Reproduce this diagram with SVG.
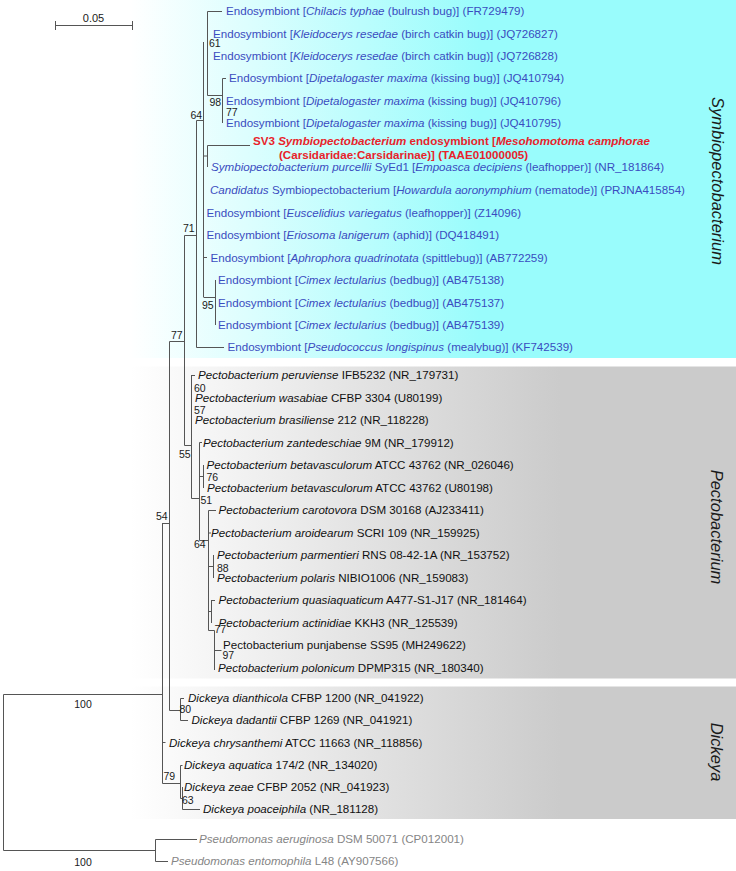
<svg xmlns="http://www.w3.org/2000/svg" width="736" height="871" viewBox="0 0 736 871">
<defs>
<linearGradient id="gc" gradientUnits="userSpaceOnUse" x1="130" y1="0" x2="480" y2="0">
<stop offset="0" stop-color="#ffffff"/><stop offset="1" stop-color="#99fcfc"/>
</linearGradient>
<linearGradient id="gg" gradientUnits="userSpaceOnUse" x1="130" y1="0" x2="560" y2="0">
<stop offset="0" stop-color="#ffffff"/><stop offset="1" stop-color="#cbcbcb"/>
</linearGradient>
<style>
text{font-family:"Liberation Sans",Arial,sans-serif;font-size:11.6px}
.b{fill:#3a4cc0}
.k{fill:#111111}
.g{fill:#858585}
.r{fill:#e8232b;font-weight:bold}
.i{font-style:italic}
.bs{font-size:10.5px;fill:#1a1a1a}
.cl{font-size:16.5px;font-style:italic;fill:#1a1a1a;text-anchor:middle}
.e{stroke:#555555;stroke-width:1;fill:none}
</style>
</defs>
<rect x="0" y="0" width="736" height="871" fill="#ffffff"/>
<g id="backgrounds">
<rect x="130" y="0" width="606" height="358" fill="url(#gc)"/>
<rect x="130" y="366.5" width="606" height="312" fill="url(#gg)"/>
<rect x="130" y="686.5" width="606" height="132.5" fill="url(#gg)"/>
</g>
<g id="scale-bar">
<path class="e" d="M55.5 25.5H132.5M55.5 21V30M132.5 21V30"/>
<text class="bs" x="93.5" y="21.5" text-anchor="middle" style="font-size:11px">0.05</text>
</g>
<g id="connectors">
<path class="e" d="M207.5 11.5V95.5M207.5 11.5H222M207.5 95.5H222.5M222.5 78.5V123M222.5 78.5H226
M203.5 42V297M196.5 120.5H203.5M203.5 156H207.5M207.5 145.5V167M207.5 145.5H250
M203.5 257.5H207M203.5 297.5H215.5M215.5 280V325
M196.5 120.5V347.5M196.5 347.5H224M184.5 235.5H196.5M184.5 235.5V445.5M184.5 445.5H191.5
M169.5 341.5H184.5M169.5 341.5V710.5M162 523.5H169.5M162.5 523.5V783.5
M191.5 375V498.5M191.5 375.5H195M191.5 498.5H199.5M199.5 442.5V540.5M199.5 442.5H202
M199.5 476.5H203.5M203.5 465V488M199.5 540.5H208.5M208.5 510.5V630.5M208.5 510.5H216M208.5 533H211
M208.5 566.5H213.5M213.5 555V578M208.5 611.5H211.5M211.5 600V623M211.5 600.5H215
M208.5 630.5H214.5M214.5 630.5V670M214.5 650.5H221.5
M169.5 710.5H180.5M180.5 698.5V720.5M180.5 698.5H184M180.5 720.5H188M162.5 742.5H165.5
M162.5 783.5H180.5M180.5 765.5V798.5M180.5 765.5H182.5M180.5 798.5H182.5M182.5 787V809.5M182.5 809.5H200
M3.5 694.5H162.5M3.5 694.5V850.5M3.5 850.5H155.5M155.5 839.5V861.5M155.5 839.5H197M155.5 861.5H168"/>
</g>
<g id="bootstrap">
<text class="bs" x="209" y="47">61</text>
<text class="bs" x="209.5" y="105.5">98</text>
<text class="bs" x="226" y="115.5">77</text>
<text class="bs" x="190.5" y="118.5">64</text>
<text class="bs" x="183" y="231.5">71</text>
<text class="bs" x="202" y="308.5">95</text>
<text class="bs" x="171" y="338.5">77</text>
<text class="bs" x="194" y="392">60</text>
<text class="bs" x="194" y="413.5">57</text>
<text class="bs" x="179" y="457.5">55</text>
<text class="bs" x="206.5" y="481">76</text>
<text class="bs" x="200.5" y="503.5">51</text>
<text class="bs" x="156" y="520">54</text>
<text class="bs" x="194" y="548">64</text>
<text class="bs" x="217" y="572">88</text>
<text class="bs" x="214.5" y="633">77</text>
<text class="bs" x="222.5" y="658.5">97</text>
<text class="bs" x="179.5" y="713">80</text>
<text class="bs" x="163.5" y="780">79</text>
<text class="bs" x="182" y="804">63</text>
<text class="bs" x="83" y="707.5" text-anchor="middle">100</text>
<text class="bs" x="83" y="866" text-anchor="middle">100</text>
</g>
<g id="symbiopectobacterium-leaves">
<g id="n1"><text class="b" x="226" y="15">Endosymbiont [<tspan class="i">Chilacis typhae</tspan> (bulrush bug)] (FR729479)</text></g>
<g id="n2"><text class="b" x="213" y="37.5">Endosymbiont [<tspan class="i">Kleidocerys resedae</tspan> (birch catkin bug)] (JQ726827)</text></g>
<g id="n3"><text class="b" x="213" y="60">Endosymbiont [<tspan class="i">Kleidocerys resedae</tspan> (birch catkin bug)] (JQ726828)</text></g>
<g id="n4"><text class="b" x="229" y="82">Endosymbiont [<tspan class="i">Dipetalogaster maxima</tspan> (kissing bug)] (JQ410794)</text></g>
<g id="n5"><text class="b" x="226" y="104.5">Endosymbiont [<tspan class="i">Dipetalogaster maxima</tspan> (kissing bug)] (JQ410796)</text></g>
<g id="n6"><text class="b" x="226" y="127">Endosymbiont [<tspan class="i">Dipetalogaster maxima</tspan> (kissing bug)] (JQ410795)</text></g>
<g id="n7">
<text class="r" x="253" y="145">SV3 <tspan class="i">Symbiopectobacterium</tspan> endosymbiont [<tspan class="i">Mesohomotoma camphorae</tspan></text>
<text class="r" x="279" y="158.5">(Carsidaridae:Carsidarinae)] (TAAE01000005)</text>
</g>
<g id="n8"><text class="b" x="211" y="171"><tspan class="i">Symbiopectobacterium purcellii</tspan> SyEd1 [<tspan class="i">Empoasca decipiens</tspan> (leafhopper)] (NR_181864)</text></g>
<g id="n9"><text class="b" x="210" y="194"><tspan class="i">Candidatus</tspan> Symbiopectobacterium [<tspan class="i">Howardula aoronymphium</tspan> (nematode)] (PRJNA415854)</text></g>
<g id="n10"><text class="b" x="206.5" y="216.5">Endosymbiont [<tspan class="i">Euscelidius variegatus</tspan> (leafhopper)] (Z14096)</text></g>
<g id="n11"><text class="b" x="206.5" y="239">Endosymbiont [<tspan class="i">Eriosoma lanigerum</tspan> (aphid)] (DQ418491)</text></g>
<g id="n12"><text class="b" x="210.5" y="261.5">Endosymbiont [<tspan class="i">Aphrophora quadrinotata</tspan> (spittlebug)] (AB772259)</text></g>
<g id="n13"><text class="b" x="218" y="284">Endosymbiont [<tspan class="i">Cimex lectularius</tspan> (bedbug)] (AB475138)</text></g>
<g id="n14"><text class="b" x="218" y="306.5">Endosymbiont [<tspan class="i">Cimex lectularius</tspan> (bedbug)] (AB475137)</text></g>
<g id="n15"><text class="b" x="218" y="328.5">Endosymbiont [<tspan class="i">Cimex lectularius</tspan> (bedbug)] (AB475139)</text></g>
<g id="n16"><text class="b" x="227.5" y="351">Endosymbiont [<tspan class="i">Pseudococcus longispinus</tspan> (mealybug)] (KF742539)</text></g>
</g>
<g id="pectobacterium-leaves">
<g id="n17"><text class="k" x="198" y="379"><tspan class="i">Pectobacterium peruviense</tspan> IFB5232 (NR_179731)</text></g>
<g id="n18"><text class="k" x="195" y="401.5"><tspan class="i">Pectobacterium wasabiae</tspan> CFBP 3304 (U80199)</text></g>
<g id="n19"><text class="k" x="195" y="424"><tspan class="i">Pectobacterium brasiliense</tspan> 212 (NR_118228)</text></g>
<g id="n20"><text class="k" x="203" y="446.5"><tspan class="i">Pectobacterium zantedeschiae</tspan> 9M (NR_179912)</text></g>
<g id="n21"><text class="k" x="206.5" y="469"><tspan class="i">Pectobacterium betavasculorum</tspan> ATCC 43762 (NR_026046)</text></g>
<g id="n22"><text class="k" x="207" y="491.5"><tspan class="i">Pectobacterium betavasculorum</tspan> ATCC 43762 (U80198)</text></g>
<g id="n23"><text class="k" x="218.5" y="514"><tspan class="i">Pectobacterium carotovora</tspan> DSM 30168 (AJ233411)</text></g>
<g id="n24"><text class="k" x="211" y="536.5"><tspan class="i">Pectobacterium aroidearum</tspan> SCRI 109 (NR_159925)</text></g>
<g id="n25"><text class="k" x="217" y="559"><tspan class="i">Pectobacterium parmentieri</tspan> RNS 08-42-1A (NR_153752)</text></g>
<g id="n26"><text class="k" x="217" y="581.5"><tspan class="i">Pectobacterium polaris</tspan> NIBIO1006 (NR_159083)</text></g>
<g id="n27"><text class="k" x="218.5" y="604"><tspan class="i">Pectobacterium quasiaquaticum</tspan> A477-S1-J17 (NR_181464)</text></g>
<g id="n28"><text class="k" x="218.5" y="626.5"><tspan class="i">Pectobacterium actinidiae</tspan> KKH3 (NR_125539)</text></g>
<g id="n29"><text class="k" x="223" y="649">Pectobacterium punjabense SS95 (MH249622)</text></g>
<g id="n30"><text class="k" x="218" y="671.5"><tspan class="i">Pectobacterium polonicum</tspan> DPMP315 (NR_180340)</text></g>
</g>
<g id="dickeya-leaves">
<g id="n31"><text class="k" x="188" y="702"><tspan class="i">Dickeya dianthicola</tspan> CFBP 1200 (NR_041922)</text></g>
<g id="n32"><text class="k" x="191.5" y="724"><tspan class="i">Dickeya dadantii</tspan> CFBP 1269 (NR_041921)</text></g>
<g id="n33"><text class="k" x="169" y="746.5"><tspan class="i">Dickeya chrysanthemi</tspan> ATCC 11663 (NR_118856)</text></g>
<g id="n34"><text class="k" x="184" y="769"><tspan class="i">Dickeya aquatica</tspan> 174/2 (NR_134020)</text></g>
<g id="n35"><text class="k" x="184" y="791"><tspan class="i">Dickeya zeae</tspan> CFBP 2052 (NR_041923)</text></g>
<g id="n36"><text class="k" x="203" y="813"><tspan class="i">Dickeya poaceiphila</tspan> (NR_181128)</text></g>
</g>
<g id="outgroup-leaves">
<g id="n37"><text class="g" x="199" y="843"><tspan class="i">Pseudomonas aeruginosa</tspan> DSM 50071 (CP012001)</text></g>
<g id="n38"><text class="g" x="171" y="865"><tspan class="i">Pseudomonas entomophila</tspan> L48 (AY907566)</text></g>
</g>
<g id="clade-labels">
<text class="cl" transform="translate(712,181) rotate(90)">Symbiopectobacterium</text>
<text class="cl" transform="translate(711,527) rotate(90)">Pectobacterium</text>
<text class="cl" transform="translate(711,752) rotate(90)">Dickeya</text>
</g>
</svg>
